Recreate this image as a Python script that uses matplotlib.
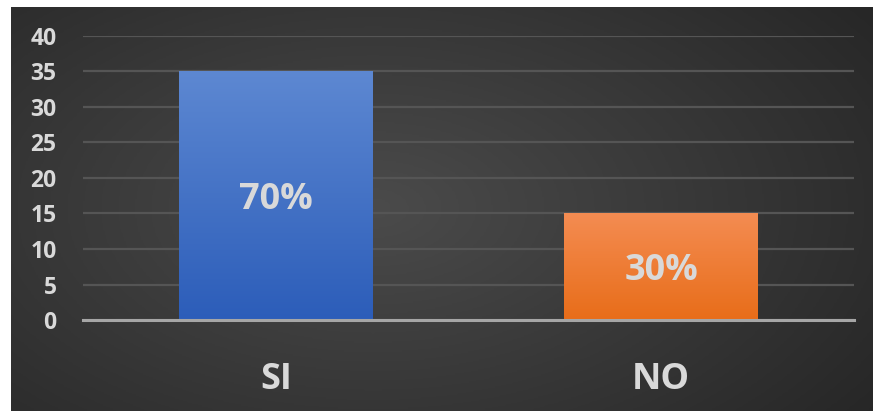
import numpy as np
import matplotlib.pyplot as plt
from matplotlib.colors import LinearSegmentedColormap

categories = ['SI', 'NO']
values = [35, 15]
labels = ['70%', '30%']
yticks = [0, 5, 10, 15, 20, 25, 30, 35, 40]

bar_colors = [('#5d88d2', '#2c5db9'), ('#f48c52', '#e86d19')]

plt.rcParams['font.family'] = ['Open Sans', 'DejaVu Sans']

fig = plt.figure(figsize=(8.73, 4.11), dpi=100)
fig.patch.set_facecolor('white')

# dark panel with radial gradient
bg = fig.add_axes([11 / 873, 0, 862 / 873, 404 / 411])
bg.set_axis_off()
yy, xx = np.mgrid[0:1:300j, 0:1:600j]
r = np.sqrt(((xx - 0.42) / 0.75) ** 2 + ((yy - 0.5) / 0.9) ** 2)
shade = np.clip(r, 0, 1)
bg_cmap = LinearSegmentedColormap.from_list('bg', ['#4b4b4b', '#252525'])
bg.imshow(shade, cmap=bg_cmap, aspect='auto', extent=[0, 1, 0, 1], vmin=0, vmax=1)

ax = fig.add_axes([83 / 873, (411 - 320) / 411, 771 / 873, 284 / 411])
ax.patch.set_alpha(0)
x = np.arange(len(categories))
bars = ax.bar(x, values, width=0.503, color='none', zorder=3)

grad = np.linspace(0, 1, 256).reshape(-1, 1)
for b, (top, bot) in zip(bars, bar_colors):
    cm = LinearSegmentedColormap.from_list('b', [top, bot])
    x0, y0 = b.get_x(), b.get_y()
    im = ax.imshow(grad, cmap=cm, aspect='auto', zorder=3,
                   extent=[x0, x0 + b.get_width(), y0, y0 + b.get_height()],
                   origin='upper')
    im.set_clip_path(b)
ax.set_xlim(-0.5, len(categories) - 0.5)
ax.set_ylim(0, 40)

for xi, v, lab in zip(x, values, labels):
    ax.text(xi, v / 2, lab, ha='center', va='center_baseline', fontsize=26,
            fontweight='bold', color='#d9d9d9', zorder=5)

ax.set_yticks(yticks)
ax.yaxis.grid(True, color='#555555', linewidth=1.6, zorder=0)
ax.set_axisbelow(True)
for s in ['top', 'right', 'left']:
    ax.spines[s].set_visible(False)
ax.spines['bottom'].set_color('#a6a6a6')
ax.spines['bottom'].set_linewidth(2.2)
ax.spines['bottom'].set_zorder(4)
ax.tick_params(axis='y', length=0, pad=19, labelsize=16.5, labelcolor='#d9d9d9')
ax.tick_params(axis='x', length=0, pad=30, labelsize=26, labelcolor='#d9d9d9')
ax.set_xticks(x)
ax.set_xticklabels(categories, fontweight='bold')
for t in ax.get_yticklabels():
    t.set_fontweight('bold')

fig.savefig('out.png', dpi=100)
